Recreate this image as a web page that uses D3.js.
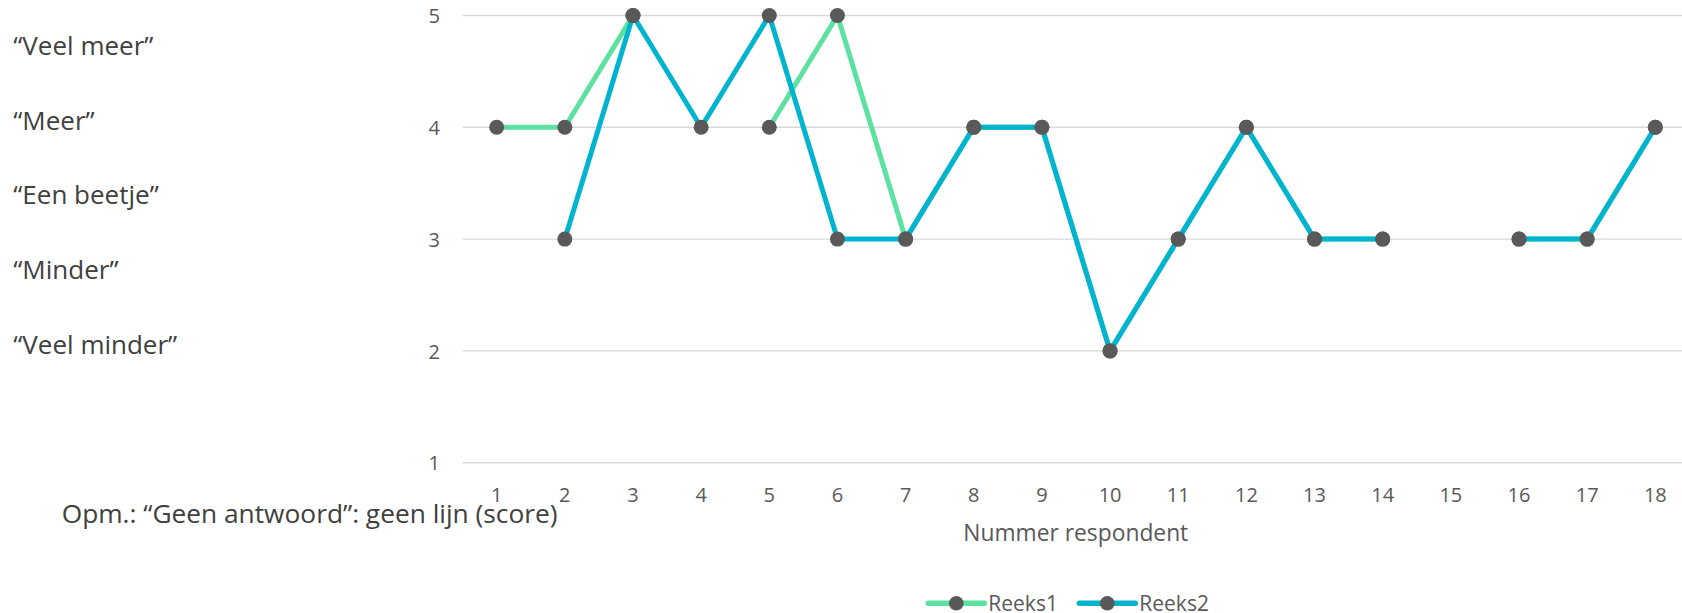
<!DOCTYPE html>
<html>
<head>
<meta charset="utf-8">
<script src="https://cdn.jsdelivr.net/npm/d3@7"></script>
<style>
  html, body { margin: 0; padding: 0; background: #ffffff; }
  svg { display: block; font-family: "Open Sans", sans-serif; }
</style>
</head>
<body>
<svg id="chart" width="1682" height="613"></svg>
<script>
// Respondent numbers on the x axis
const respondents = [1, 2, 3, 4, 5, 6, 7, 8, 9, 10, 11, 12, 13, 14, 15, 16, 17, 18];
// Scores per respondent; null = "Geen antwoord" (no line, no point)
const reeks1 = [4, 4, 5, null, 4, 5, 3, 4, 4, 2, 3, 4, 3, 3, null, 3, 3, 4];
const reeks2 = [null, 3, 5, 4, 5, 3, 3, 4, 4, 2, 3, 4, 3, 3, null, 3, 3, 4];
const seriesNames = ["Reeks1", "Reeks2"];
const yTicks = [1, 2, 3, 4, 5];
// Verbal answer scale shown at the left
const answerLabels = ["“Veel meer”", "“Meer”", "“Een beetje”", "“Minder”", "“Veel minder”"];
const note = "Opm.: “Geen antwoord”: geen lijn (score)";
const xTitle = "Nummer respondent";

const colors = ["#5ce1a0", "#00b4d0"];
const markerColor = "#595959";

const svg = d3.select("#chart");

const x = d3.scaleBand().domain(respondents).range([462.6, 1689.4]).paddingInner(0).paddingOuter(0);
const xc = d => x(d) + x.bandwidth() / 2;
const y = d3.scaleLinear().domain([1, 5]).range([462.7, 15.5]);

// Horizontal gridlines
svg.append("g")
  .selectAll("line")
  .data(yTicks)
  .join("line")
  .attr("x1", 462.6).attr("x2", 1682)
  .attr("y1", d => y(d)).attr("y2", d => y(d))
  .attr("stroke", "#d9d9d9").attr("stroke-width", 1.4);

// Y axis tick labels
const yAxis = d3.axisLeft(y).tickValues(yTicks).tickSize(0).tickPadding(0).tickFormat(d3.format("d"));
const gy = svg.append("g").attr("transform", "translate(440,0)").call(yAxis);
gy.select(".domain").remove();
gy.selectAll("text")
  .attr("fill", "#595959").attr("font-size", 20).attr("font-family", "Open Sans")
  .attr("dy", "0.36em");

// X axis tick labels
const xAxis = d3.axisBottom(x).tickSize(0).tickPadding(0);
const gx = svg.append("g").call(xAxis);
gx.select(".domain").remove();
gx.selectAll("text")
  .attr("fill", "#595959").attr("font-size", 20).attr("font-family", "Open Sans")
  .attr("dy", null).attr("y", 501.7);

// Axis title
svg.append("text")
  .attr("x", 1075.8).attr("y", 540.7)
  .attr("text-anchor", "middle")
  .attr("fill", "#595959").attr("font-size", 22.8)
  .text(xTitle);

// Verbal answer scale
const labelY = d3.scalePoint().domain(answerLabels).range([55, 353.5]);
svg.append("g")
  .selectAll("text")
  .data(answerLabels)
  .join("text")
  .attr("x", 13.3).attr("y", d => labelY(d))
  .attr("fill", "#404040").attr("font-size", 26)
  .text(d => d);

// Note about missing answers
svg.append("text")
  .attr("x", 61.7).attr("y", 523.3)
  .attr("fill", "#404040").attr("font-size", 26.3)
  .text(note);

// Series lines (gaps where the answer is missing)
const series = [reeks1, reeks2];
const line = d3.line()
  .defined(d => d.v != null)
  .x(d => xc(d.r))
  .y(d => y(d.v));

series.forEach((vals, i) => {
  const pts = respondents.map((r, j) => ({ r, v: vals[j] }));
  svg.append("path")
    .datum(pts)
    .attr("d", line)
    .attr("fill", "none")
    .attr("stroke", colors[i])
    .attr("stroke-width", 5)
    .attr("stroke-linejoin", "round");
});

// Markers
series.forEach((vals) => {
  const pts = respondents.map((r, j) => ({ r, v: vals[j] })).filter(d => d.v != null);
  svg.append("g")
    .selectAll("circle")
    .data(pts)
    .join("circle")
    .attr("cx", d => xc(d.r))
    .attr("cy", d => y(d.v))
    .attr("r", 7.5)
    .attr("fill", markerColor);
});

// Legend
const legendX = [928.3, 1079.3];
const legend = svg.append("g");
seriesNames.forEach((name, i) => {
  const g = legend.append("g").attr("transform", `translate(${legendX[i]},603.3)`);
  g.append("line").attr("x1", 0).attr("x2", 56).attr("y1", 0).attr("y2", 0)
    .attr("stroke", colors[i]).attr("stroke-width", 5.5).attr("stroke-linecap", "round");
  g.append("circle").attr("cx", 28).attr("cy", 0).attr("r", 7.3).attr("fill", markerColor);
  g.append("text").attr("x", 60).attr("y", 7.6)
    .attr("fill", "#595959").attr("font-size", 21)
    .text(name);
});
</script>
</body>
</html>
